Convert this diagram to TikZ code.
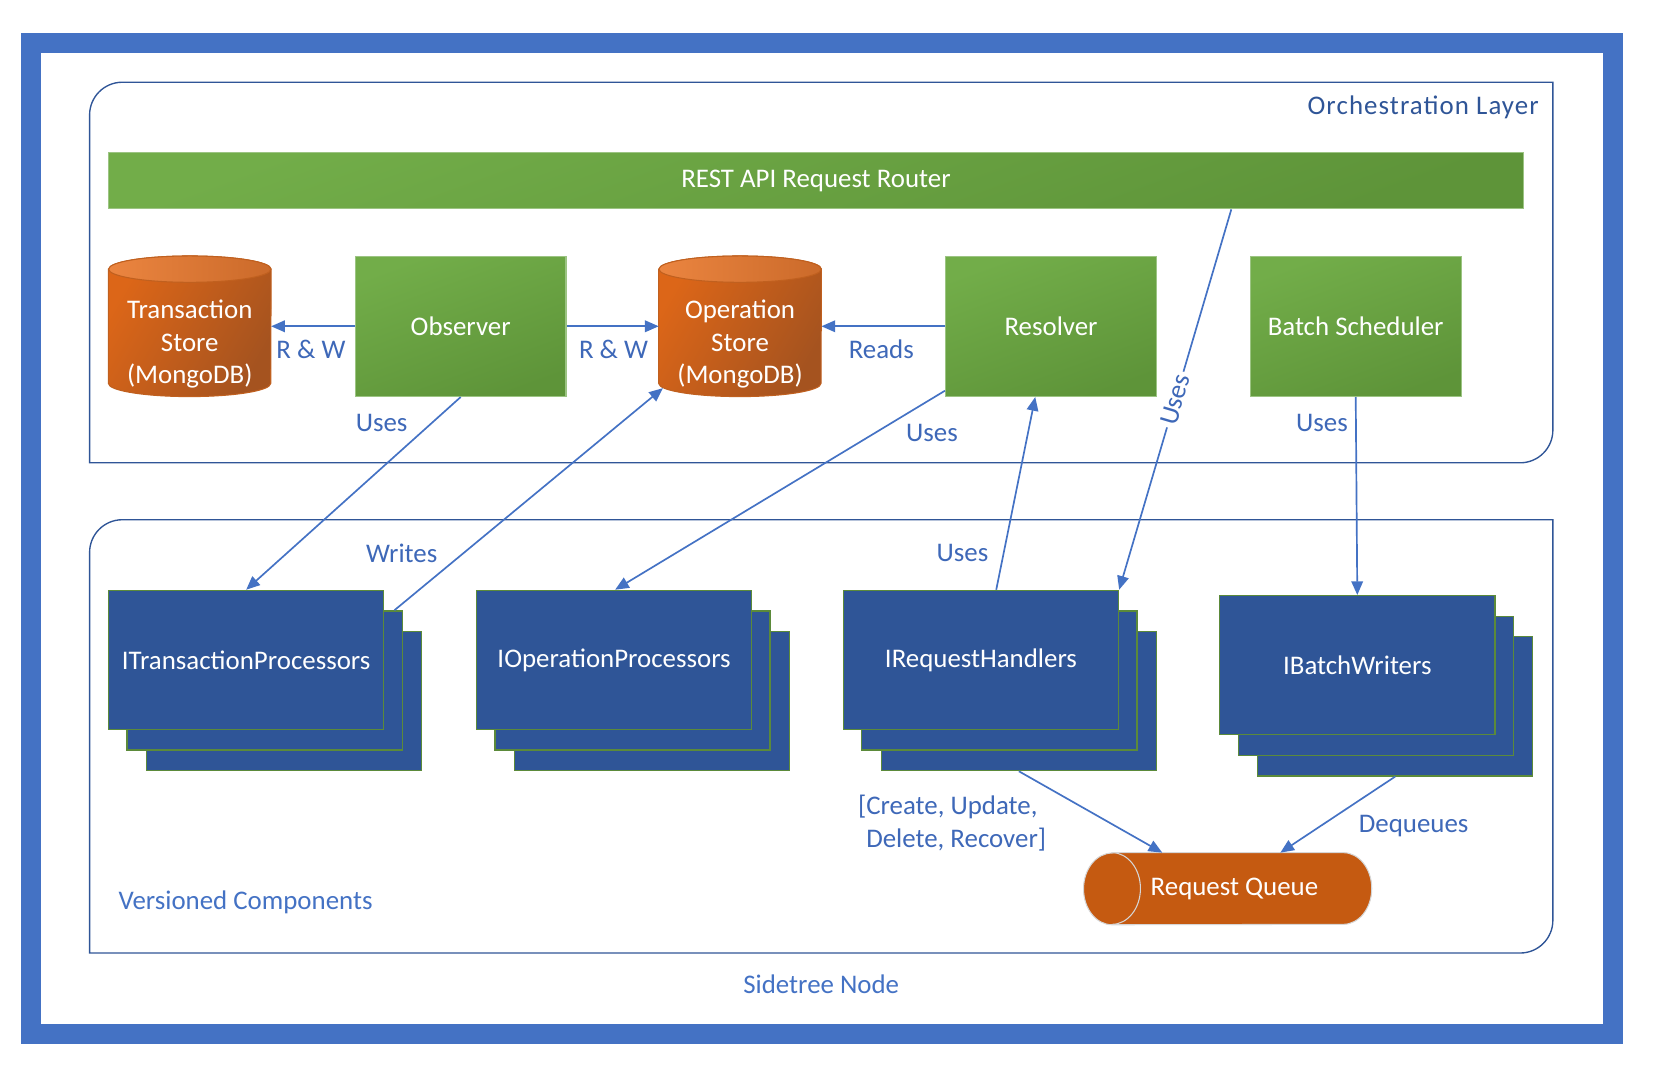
\documentclass[tikz,border=0pt]{standalone}
\usepackage{fontspec}
\setmainfont{Carlito}
\usetikzlibrary{arrows.meta,calc,backgrounds}

\definecolor{frameblue}{HTML}{4472C4}
\definecolor{boxline}{HTML}{2F5597}
\definecolor{labelblue}{HTML}{3E68B8}
\definecolor{greenA}{HTML}{72AD49}
\definecolor{greenB}{HTML}{5E9439}
\definecolor{greenEdge}{HTML}{9CC483}
\definecolor{compblue}{HTML}{2F5597}
\definecolor{compedge}{HTML}{5B8A3A}
\definecolor{orangeA}{HTML}{DC6618}
\definecolor{orangeB}{HTML}{A5531F}
\definecolor{orangeTopA}{HTML}{EB8540}
\definecolor{orangeTopB}{HTML}{CB6A2A}
\definecolor{orangeEdge}{HTML}{C0601F}
\definecolor{queuefill}{HTML}{C55A11}
\definecolor{queueEdge}{HTML}{D6D6D6}

\tikzset{
  txt/.style={font=\fontsize{25.5}{31}\selectfont},
  lbl/.style={txt, text=labelblue, inner sep=1pt},
  greenbox/.style={txt, text=white, draw=greenEdge, line width=1.2pt,
    top color=greenA, bottom color=greenB, shading angle=20,
    minimum width=200pt, minimum height=133pt, inner sep=0pt},
  compbox/.style={txt, text=white, fill=compblue, draw=compedge, line width=1.2pt,
    minimum width=261pt, minimum height=132pt, inner sep=0pt},
  dbbox/.style={minimum width=154pt, minimum height=133pt, inner sep=0pt},
  arr/.style={draw=frameblue, line width=1.6pt, -{Triangle[length=13pt,width=11pt]}},
  container/.style={draw=boxline, line width=1.3pt},
}

% vertical database cylinder behind a named node
\newcommand\dbcylinder[1]{%
  \begin{scope}[on background layer]
    \path[draw=orangeEdge, line width=1pt, left color=orangeA, right color=orangeB, shading angle=60]
      ($(#1.north west)+(0,12.5)$) -- ($(#1.south west)+(0,-12.5)$)
      arc[start angle=180, end angle=360, x radius=77pt, y radius=12.5pt]
      -- ($(#1.north east)+(0,12.5)$)
      arc[start angle=0, end angle=180, x radius=77pt, y radius=12.5pt] -- cycle;
    \path[draw=orangeEdge, line width=1pt, left color=orangeTopA, right color=orangeTopB]
      ($(#1.north)+(0,12.5)$) ellipse[x radius=77pt, y radius=12.5pt];
  \end{scope}}

\begin{document}
\begin{tikzpicture}[x=1pt,y=-1pt]
\useasboundingbox (0,0) rectangle (1568,1025);

% outer frame
\draw[frameblue, line width=19pt] (29.5,41) rectangle (1530,980.5);

% layer containers (rounded on the diagonal corners)
\draw[container] (85,439) -- (85,109) arc[start angle=180, end angle=90, radius=31pt]
  -- (1473,78) -- (1473,408) arc[start angle=0, end angle=-90, radius=31pt] -- cycle;
\draw[container] (85,904) -- (85,524) arc[start angle=180, end angle=90, radius=31pt]
  -- (1473,493) -- (1473,873) arc[start angle=0, end angle=-90, radius=31pt] -- cycle;

\node[txt, text=boxline] (orch) at (1350,102) {\addfontfeature{LetterSpace=4}Orchestration Layer};
\node[txt, text=frameblue] (vc) at (233,856) {Versioned Components};
\node[txt, text=frameblue] (sn) at (779,934) {Sidetree Node};

% orchestration layer
\node[greenbox, minimum width=1342pt, minimum height=53pt] (router) at (774,171.5) {\raisebox{-2pt}{REST API Request Router}};
\node[greenbox] (obs) at (437,309.5) {Observer};
\node[greenbox] (res) at (997,309.5) {Resolver};
\node[greenbox] (bs) at (1286,309.5) {Batch Scheduler};

\node[dbbox, label={[txt, text=white, align=center, yshift=-17pt]center:Transaction\\Store\\(MongoDB)}] (ts) at (180,309.5) {};
\node[dbbox, label={[txt, text=white, align=center, yshift=-17pt]center:Operation\\Store\\(MongoDB)}] (os) at (702,309.5) {};
\dbcylinder{ts}
\dbcylinder{os}

% versioned components (stacks of three)
\node[compbox] (itp3) at (269.5,665) {};
\node[compbox] (itp2) at (251,645.5) {};
\node[compbox] (itp) at (233.5,626) {ITransactionProcessors};

\node[compbox] (iop3) at (618.5,665) {};
\node[compbox] (iop2) at (600,645.5) {};
\node[compbox] (iop) at (582.5,626) {IOperationProcessors};

\node[compbox] (irh3) at (966.5,665) {};
\node[compbox] (irh2) at (948,645.5) {};
\node[compbox] (irh) at (930.5,626) {IRequestHandlers};

\node[compbox] (ibw3) at (1323.5,670) {};
\node[compbox] (ibw2) at (1305,650.5) {};
\node[compbox] (ibw) at (1287.5,631) {IBatchWriters};

% request queue (horizontal cylinder)
\node[txt, text=white, minimum width=273pt, minimum height=68pt, inner sep=0pt] (rq) at (1164.5,843)
  {\hspace{13pt}Request Queue\hspace{-13pt}};
\begin{scope}[on background layer]
  \path[fill=queuefill, draw=queueEdge, line width=1pt]
    ($(rq.north west)+(27,0)$) -- ($(rq.north east)+(-27,0)$)
    arc[start angle=90, end angle=-90, x radius=27pt, y radius=34pt]
    -- ($(rq.south west)+(27,0)$)
    arc[start angle=-90, end angle=-270, x radius=27pt, y radius=34pt] -- cycle;
  \draw[queueEdge, line width=1pt] ($(rq.north west)+(27,0)$)
    arc[start angle=90, end angle=-90, x radius=27pt, y radius=34pt];
\end{scope}

% connectors
\draw[arr] (obs.west) -- (ts.east);
\draw[arr] (obs.east) -- (os.west);
\draw[arr] (res.west) -- (os.east);
\draw[arr] (obs.south) -- (itp.north);
\draw[arr] ($(itp2.north east)+(-8,0)$) -- ($(os.south west)+(4,-8)$);
\draw[arr] ($(res.south west)+(0,-6)$) -- ($(iop.north)+(1,0)$);
\draw[arr] ($(irh.north)+(14.5,0)$) -- ($(res.south)+(-15,0)$);
\draw[arr] ($(router.south)+(394,0)$) --
  node[lbl, pos=0.5, rotate=73.5, fill=white, inner sep=3pt] (usesrouter) {Uses} (irh.north east);
\draw[arr] (bs.south) -- (ibw.north);
\draw[arr] (irh3.south) -- ($(rq.north)+(-62,0)$);
\draw[arr] (ibw3.south) -- ($(rq.north)+(50,0)$);

% connector labels
\node[lbl] (rw1) at (295,331) {R \& W};
\node[lbl] (rw2) at (582,331) {R \& W};
\node[lbl] (reads) at (836,331) {Reads};
\node[lbl] (usesobs) at (362,401) {Uses};
\node[lbl] (writes) at (381,525) {Writes};
\node[lbl] (usesres) at (884,411) {Uses};
\node[lbl] (usesirh) at (913,525) {Uses};
\node[lbl] (usesbs) at (1254,401) {Uses};
\node[lbl, align=center] (ops) at (907,781) {[Create, Update,\hspace*{16pt}\\Delete, Recover]};
\node[lbl] (deq) at (1341,784) {Dequeues};
\end{tikzpicture}
\end{document}
